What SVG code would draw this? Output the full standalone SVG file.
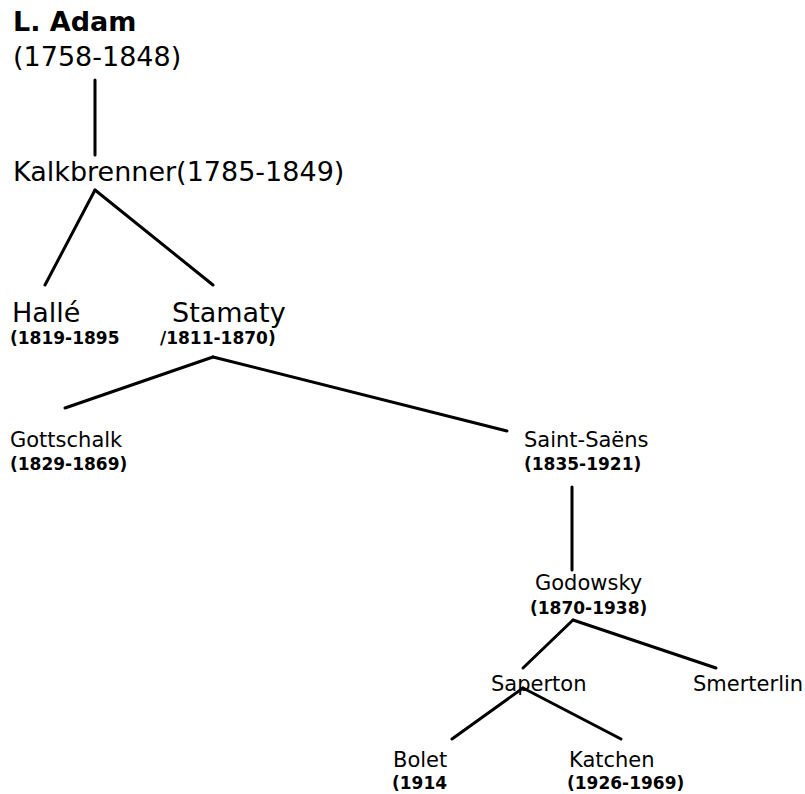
<svg xmlns="http://www.w3.org/2000/svg" width="805" height="794" viewBox="0 0 805 794">
<style>
text{font-family:"DejaVu Sans",Verdana,sans-serif;fill:#000}
.big{font-size:27px}
.name{font-size:21px}
.date{font-size:17px;font-weight:bold}
.conn line{stroke:#000;stroke-width:3;stroke-linecap:round}
</style>
<rect width="805" height="794" fill="#fff"/>
<g id="connectors" class="conn">
<line x1="95" y1="80" x2="95" y2="155"/>
<line x1="95" y1="190" x2="45" y2="285"/>
<line x1="95" y1="190" x2="213" y2="285"/>
<line x1="213" y1="357" x2="65" y2="408"/>
<line x1="213" y1="357" x2="507" y2="431"/>
<line x1="572" y1="487" x2="572" y2="570"/>
<line x1="573" y1="620" x2="523" y2="668"/>
<line x1="573" y1="620" x2="716" y2="668"/>
<line x1="523" y1="688" x2="452" y2="739"/>
<line x1="523" y1="688" x2="621" y2="739"/>
</g>
<g id="adam"><text x="13" y="31" class="big" font-weight="bold" font-size="26">L. Adam</text><text x="13" y="66" class="big">(1758-1848)</text></g>
<g id="kalkbrenner"><text x="13" y="181" class="big">Kalkbrenner(1785-1849)</text></g>
<g id="halle"><text x="12" y="322" class="big" font-size="26">Hallé</text><text x="10" y="344" class="date">(1819-1895</text></g>
<g id="stamaty"><text x="172" y="322" class="big" font-size="26">Stamaty</text><text x="160" y="344" class="date">/1811-1870)</text></g>
<g id="gottschalk"><text x="10" y="447" class="name">Gottschalk</text><text x="10" y="470" class="date">(1829-1869)</text></g>
<g id="saint-saens"><text x="524" y="447" class="name">Saint-Saëns</text><text x="524" y="470" class="date">(1835-1921)</text></g>
<g id="godowsky"><text x="535" y="590" class="name">Godowsky</text><text x="530" y="614" class="date">(1870-1938)</text></g>
<g id="saperton"><text x="491" y="691" class="name">Saperton</text></g>
<g id="smerterlin"><text x="693" y="691" class="name">Smerterlin</text></g>
<g id="bolet"><text x="393" y="767" class="name">Bolet</text><text x="392" y="789" class="date">(1914</text></g>
<g id="katchen"><text x="569" y="767" class="name">Katchen</text><text x="567" y="789" class="date">(1926-1969)</text></g>
</svg>
